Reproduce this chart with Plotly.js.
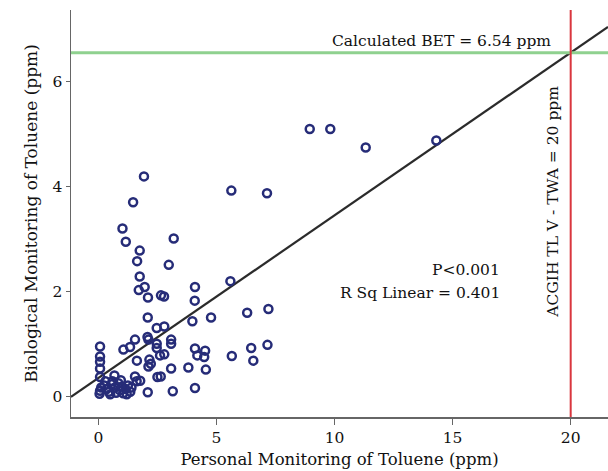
<!DOCTYPE html>
<html><head><meta charset="utf-8">
<script src="https://cdn.plot.ly/plotly-3.0.1.min.js"></script>
<style>html,body{margin:0;padding:0;background:#fff;}#chart{width:608px;height:471px;}</style>
</head><body><div id="chart"></div>
<script>
// Personal monitoring (ppm)
const personal = [8.95,9.82,11.32,14.31,1.93,5.63,7.14,1.47,1.02,1.16,3.19,1.75,1.64,2.98,1.75,1.71,1.96,2.10,2.65,2.78,4.09,4.08,5.59,6.30,7.20,4.77,2.09,3.98,2.47,2.79,
  0.07,1.06,1.34,1.55,2.08,2.12,2.47,2.47,3.08,3.08,4.09,4.52,6.47,7.16,4.19,4.48,5.65,6.56,0.07,0.07,0.07,0.07,1.63,2.16,2.22,2.12,2.61,2.79,3.08,3.81,4.55,0.68,1.55,1.77,1.62,2.50,2.64,2.09,3.15,4.09,
  0.07,0.12,0.05,0.25,0.35,0.45,0.55,0.60,0.70,0.75,0.85,0.90,1.00,1.05,1.15,1.25,1.35,1.40,0.95,0.30,0.50,1.20];
// Biological monitoring (ppm)
const biological = [5.09,5.09,4.74,4.87,4.19,3.92,3.87,3.70,3.20,2.95,3.01,2.78,2.58,2.51,2.29,2.03,2.09,1.89,1.93,1.91,2.09,1.83,2.20,1.60,1.67,1.51,1.51,1.44,1.31,1.34,
  0.96,0.90,0.95,1.09,1.14,1.09,1.01,0.93,1.09,1.01,0.92,0.88,0.93,0.99,0.79,0.76,0.78,0.69,0.77,0.67,0.54,0.38,0.69,0.71,0.63,0.58,0.79,0.81,0.54,0.56,0.52,0.41,0.39,0.31,0.30,0.38,0.39,0.09,0.11,0.17,
  0.12,0.18,0.06,0.22,0.15,0.10,0.24,0.30,0.18,0.08,0.26,0.13,0.20,0.07,0.15,0.22,0.10,0.18,0.32,0.30,0.05,0.05];
// Linear fit and reference values
const fitIntercept = 0.36;
const fitSlope = 0.309;
const tlvTwa = 20;
const calcBet = 6.54;
const xRange = [-1.16, 21.58];
const yRange = [-0.38, 7.35];
const xTicks = [0, 5, 10, 15, 20];
const yTicks = [0, 2, 4, 6];

const fitX = xRange.slice();
const fitY = fitX.map(x => fitIntercept + fitSlope * x);

const font = 'DejaVu Serif';
const data = [
  {x: fitX, y: fitY, mode: 'lines', line: {color: '#2b2b2b', width: 2.2}, hoverinfo: 'skip'},
  {x: personal, y: biological, mode: 'markers', type: 'scatter',
   marker: {symbol: 'circle-open', size: 8, color: '#262c78', line: {width: 2.5, color: '#262c78'}}}
];
const layout = {
  width: 608, height: 471,
  margin: {l: 71, r: 0, t: 10, b: 54},
  paper_bgcolor: '#fff', plot_bgcolor: '#fff',
  showlegend: false,
  font: {family: font, color: '#111', size: 14},
  xaxis: {range: xRange, tickvals: xTicks, ticktext: xTicks.map(String), showgrid: false, zeroline: false,
    showline: true, linecolor: '#666', linewidth: 1.5, ticks: 'outside', ticklen: 6, tickcolor: '#666',
    tickfont: {family: font, size: 15.5}, title: {text: 'Personal Monitoring of Toluene (ppm)', font: {family: font, size: 16.5}, standoff: 7}},
  yaxis: {range: yRange, tickvals: yTicks, ticktext: yTicks.map(String), showgrid: false, zeroline: false,
    showline: true, linecolor: '#666', linewidth: 1.5, ticks: 'outside', ticklen: 4, tickcolor: '#666',
    tickfont: {family: font, size: 15.5}, title: {text: 'Biological Monitoring of Toluene (ppm)', font: {family: font, size: 17}, standoff: 10}},
  shapes: [
    {type: 'line', xref: 'paper', x0: 0, x1: 1, yref: 'y', y0: calcBet, y1: calcBet, line: {color: '#8fd18f', width: 3}},
    {type: 'line', yref: 'paper', y0: 0, y1: 1, xref: 'x', x0: tlvTwa, x1: tlvTwa, line: {color: '#d9363e', width: 2}}
  ],
  annotations: [
    {x: 19.25, y: calcBet, xref: 'x', yref: 'y', xanchor: 'right', yanchor: 'bottom', yshift: 1, showarrow: false,
     text: 'Calculated BET = ' + calcBet + ' ppm', font: {family: font, size: 15.5}},
    {x: 19.25, y: 3.71, xref: 'x', yref: 'y', textangle: -90, showarrow: false,
     text: 'ACGIH TL V - TWA = ' + tlvTwa + ' ppm', font: {family: font, size: 15.5}},
    {x: 17.1, y: 2.42, xref: 'x', yref: 'y', xanchor: 'right', showarrow: false, text: 'P<0.001', font: {family: font, size: 15.5}},
    {x: 17.1, y: 1.98, xref: 'x', yref: 'y', xanchor: 'right', showarrow: false, text: 'R Sq Linear = 0.401', font: {family: font, size: 15.5}}
  ]
};
Plotly.newPlot('chart', data, layout, {displayModeBar: false, staticPlot: true});
</script></body></html>
